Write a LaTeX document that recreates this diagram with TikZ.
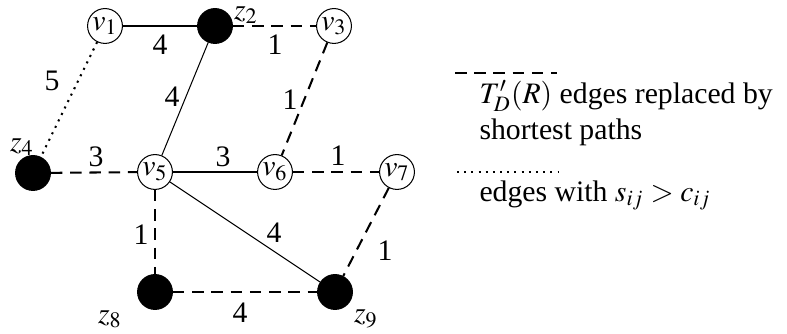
\documentclass[tikz,border=0pt]{standalone}
\usepackage{mathptmx}
\usepackage{fontspec}
\setmainfont{Liberation Serif}
\usepackage{tikz}
\usetikzlibrary{positioning}

\begin{document}
\begin{tikzpicture}[x=0.39pt, y=-0.39pt,
    every node/.style={font=\fontsize{11.6}{14}\selectfont},
    vnode/.style={draw, circle, inner sep=0pt, minimum size=13.6pt, fill=white},
    znode/.style={draw, circle, inner sep=0pt, minimum size=13.6pt, fill=black},
    tree/.style={line width=0.9pt},
    thin edge/.style={line width=0.4pt},
    repl/.style={line width=0.8pt, dash pattern=on 4.5pt off 3pt},
    slack/.style={line width=0.8pt, dash pattern=on 0.8pt off 2pt},
    wt/.style={}
]
    \useasboundingbox (0,0) rectangle (787,334);

    % edges first, nodes on top
    \coordinate (p1) at (105,26);
    \coordinate (p2) at (215,26);
    \coordinate (p3) at (334,26);
    \coordinate (p4) at (33,173);
    \coordinate (p5) at (155,172);
    \coordinate (p6) at (275,172);
    \coordinate (p7) at (397,172);
    \coordinate (p8) at (155,292);
    \coordinate (p9) at (335,292);

    \node (v1) [vnode] at (p1) {$v_1$};
    \node (z2) [znode] at (p2) {};
    \node (v3) [vnode] at (p3) {$v_3$};
    \node (z4) [znode] at (p4) {};
    \node (v5) [vnode] at (p5) {$v_5$};
    \node (v6) [vnode] at (p6) {$v_6$};
    \node (v7) [vnode] at (p7) {$v_7$};
    \node (z8) [znode] at (p8) {};
    \node (z9) [znode] at (p9) {};

    \node (lz2) [inner sep=0pt] at (246,15) {$z_2$};
    \node (lz4) [inner sep=0pt] at (22,147) {$z_4$};
    \node (lz8) [inner sep=0pt] at (110,319) {$z_8$};
    \node (lz9) [inner sep=0pt] at (366,319) {$z_9$};

    \draw [tree] (v1) -- (z2);
    \draw [repl] (z2) -- (v3);
    \draw [slack] (v1) -- (z4);
    \draw [thin edge] (z2) -- (v5);
    \draw [repl] (v3) -- (v6);
    \draw [repl] (z4) -- (v5);
    \draw [tree] (v5) -- (v6);
    \draw [repl] (v6) -- (v7);
    \draw [repl] (v5) -- (z8);
    \draw [thin edge] (v5) -- (z9);
    \draw [repl] (v7) -- (z9);
    \draw [repl] (z8) -- (z9);

    \node [wt] at (160,45) {4};
    \node [wt] at (275,45) {1};
    \node [wt] at (52,81) {5};
    \node [wt] at (172,97) {4};
    \node [wt] at (290,100) {1};
    \node [wt] at (96,157) {3};
    \node [wt] at (223,157) {3};
    \node [wt] at (338,156) {1};
    \node [wt] at (141,235) {1};
    \node [wt] at (274,233) {4};
    \node [wt] at (385,251) {1};
    \node [wt] at (240,313) {4};

    % legend
    \coordinate (d1) at (455,73);
    \coordinate (d2) at (557,73);
    \coordinate (s1) at (457,172);
    \coordinate (s2) at (559,172);
    \draw [repl] (d1) -- (d2);
    \draw [slack] (s1) -- (s2);
    \node (ldash) [anchor=north west, align=left, inner sep=0pt] at (479,80)
        {$T'_D(R)$ edges replaced by\\shortest paths};
    \node (ldot) [anchor=north west, inner sep=0pt] at (479,180)
        {edges with $s_{ij} > c_{ij}$};
\end{tikzpicture}
\end{document}
